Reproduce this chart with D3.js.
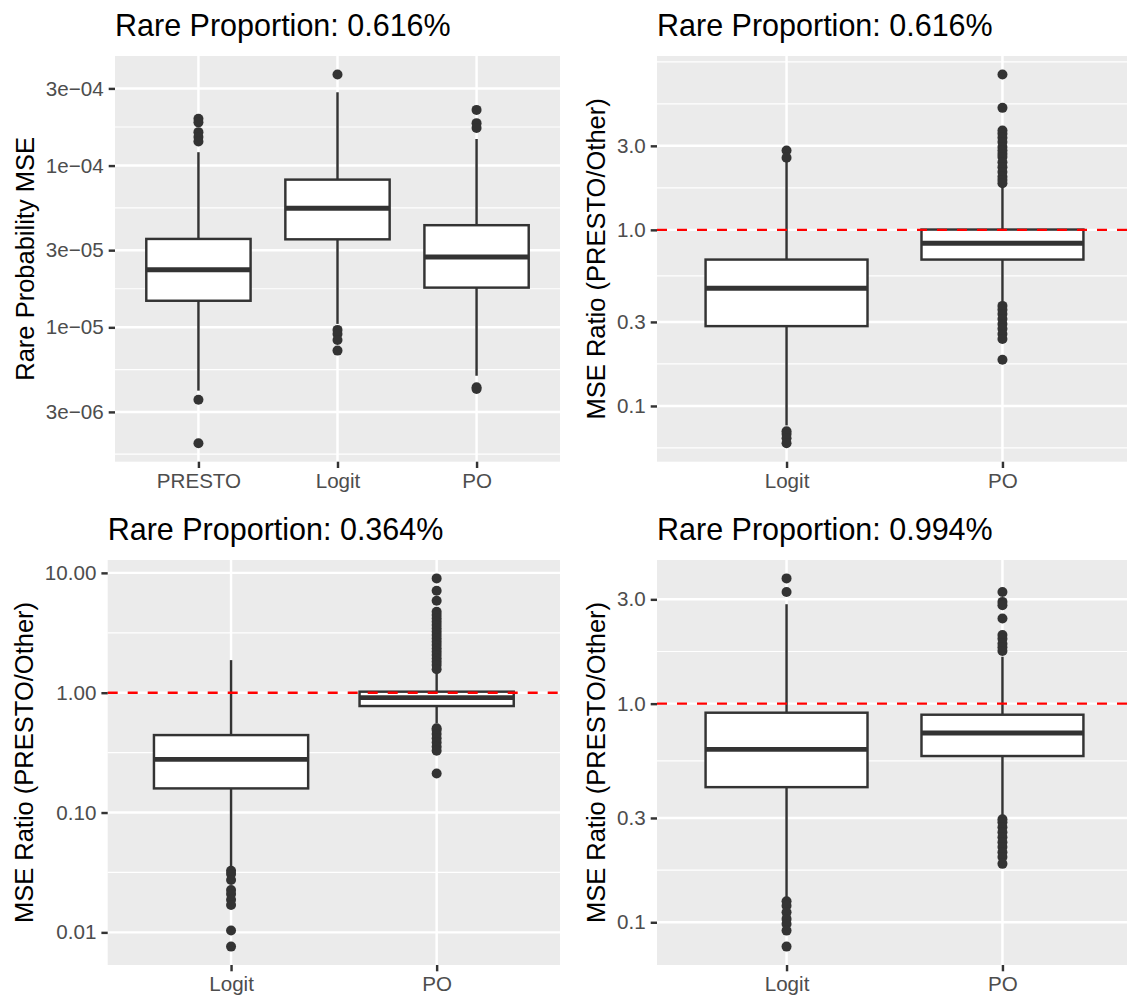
<!DOCTYPE html>
<html><head><meta charset="utf-8">
<script src="https://cdn.jsdelivr.net/npm/d3@7"></script>
<style>body{margin:0;background:#fff}</style>
</head><body><svg id="c" width="1127" height="1004"></svg>
<script>
// ---------- DATA ----------
// Panel 1 (top-left): Rare Probability MSE
const p1Title = "Rare Proportion: 0.616%";
const p1YTitle = "Rare Probability MSE";
const p1Cats = ["PRESTO", "Logit", "PO"];
const p1Q1 = [1.46e-5, 3.50e-5, 1.76e-5];
const p1Median = [2.27e-5, 5.45e-5, 2.72e-5];
const p1Q3 = [3.52e-5, 8.19e-5, 4.28e-5];
const p1Lower = [4.06e-6, 1.05e-5, 5.02e-6];
const p1Upper = [1.21e-4, 2.84e-4, 1.46e-4];
const p1Outliers = [
  [1.95e-4, 1.85e-4, 1.61e-4, 1.50e-4, 1.41e-4, 3.57e-6, 1.92e-6],
  [3.66e-4, 9.64e-6, 9.10e-6, 8.35e-6, 7.18e-6],
  [2.21e-4, 1.83e-4, 1.71e-4, 4.26e-6, 4.16e-6]
];
const p1Ticks = [3e-6, 1e-5, 3e-5, 1e-4, 3e-4];
const p1TickLabels = ["3e\u221206", "1e\u221205", "3e\u221205", "1e\u221204", "3e\u221204"];

// Panel 2 (top-right)
const p2Title = "Rare Proportion: 0.616%";
const p2YTitle = "MSE Ratio (PRESTO/Other)";
const p2Cats = ["Logit", "PO"];
const p2Q1 = [0.284, 0.678];
const p2Median = [0.466, 0.840];
const p2Q3 = [0.678, 1.004];
const p2Lower = [0.0775, 0.39];
const p2Upper = [2.45, 1.76];
const p2Outliers = [
  [2.82, 2.57, 0.0718, 0.0693, 0.0655, 0.0614],
  [7.63, 4.93, 3.67, 3.51, 3.33, 3.15, 2.95, 2.82, 2.70, 2.59, 2.42, 2.27, 2.13, 2.0, 1.92, 1.84,
   0.370, 0.352, 0.333, 0.312, 0.292, 0.274, 0.256, 0.240, 0.183]
];
const p2Ticks = [0.1, 0.3, 1, 3];
const p2TickLabels = ["0.1", "0.3", "1.0", "3.0"];

// Panel 3 (bottom-left)
const p3Title = "Rare Proportion: 0.364%";
const p3YTitle = "MSE Ratio (PRESTO/Other)";
const p3Cats = ["Logit", "PO"];
const p3Q1 = [0.159, 0.774];
const p3Median = [0.278, 0.909];
const p3Q3 = [0.443, 1.02];
const p3Lower = [0.0345, 0.555];
const p3Upper = [1.87, 1.45];
const p3Outliers = [
  [0.0326, 0.0307, 0.0274, 0.0226, 0.0209, 0.0187, 0.0169, 0.01035, 0.00761],
  [8.99, 7.09, 5.85, 4.74, 4.44, 4.17, 3.91, 3.67, 3.44, 3.23, 3.03, 2.84, 2.66, 2.50, 2.34, 2.20,
   2.06, 1.93, 1.81, 1.70, 1.57, 0.505, 0.488, 0.452, 0.416, 0.385, 0.354, 0.328, 0.212]
];
const p3Ticks = [0.01, 0.1, 1, 10];
const p3TickLabels = ["0.01", "0.10", "1.00", "10.00"];

// Panel 4 (bottom-right)
const p4Title = "Rare Proportion: 0.994%";
const p4YTitle = "MSE Ratio (PRESTO/Other)";
const p4Cats = ["Logit", "PO"];
const p4Q1 = [0.415, 0.576];
const p4Median = [0.618, 0.734];
const p4Q3 = [0.909, 0.890];
const p4Lower = [0.130, 0.305];
const p4Upper = [2.85, 1.64];
const p4Outliers = [
  [3.74, 3.24, 0.1248, 0.119, 0.111, 0.1036, 0.0983, 0.0916, 0.0774],
  [3.24, 2.92, 2.82, 2.45, 2.06, 1.98, 1.88, 1.81, 1.74,
   0.296, 0.287, 0.272, 0.258, 0.245, 0.232, 0.221, 0.209, 0.199, 0.185]
];
const p4Ticks = [0.1, 0.3, 1, 3];
const p4TickLabels = ["0.1", "0.3", "1.0", "3.0"];

const refLine = 1;

// ---------- DRAWING ----------
const FONT = "'Liberation Sans', Arial, Helvetica, sans-serif";
const svg = d3.select("#c");
svg.append("rect").attr("width", 1127).attr("height", 1004).attr("fill", "#fff");

const LW = 2.45, TICK = 6.3, PAD = 5;
const DARK = "#333333";

function minorBreaks(majorLog, lim) {
  const b = majorLog.slice().sort((a, c) => a - c);
  const bd = b[1] - b[0];
  if (lim[0] < b[0]) b.unshift(b[0] - bd);
  if (lim[1] > b[b.length - 1]) b.push(b[b.length - 1] + bd);
  const out = [];
  for (let i = 0; i < b.length - 1; i++) out.push((b[i] + b[i + 1]) / 2);
  out.push(b[b.length - 1]);
  return out.filter(v => v >= lim[0] && v <= lim[1]);
}

function drawPanel(c) {
  const g = svg.append("g");
  const all = [].concat(c.lo, c.hi, ...c.out).map(Math.log10);
  const mn = d3.min(all), mx = d3.max(all), pad = (mx - mn) * 0.05;
  const lim = [mn - pad, mx + pad];
  const y = d3.scaleLog().domain([10 ** lim[0], 10 ** lim[1]]).range([c.bottom, c.top]);
  const x = d3.scalePoint().domain(c.cats).range([c.left, c.right]).padding(0.6);
  const bw = x.step() * 0.75;

  g.append("rect").attr("x", c.left).attr("y", c.top)
    .attr("width", c.right - c.left).attr("height", c.bottom - c.top).attr("fill", "#EBEBEB");
  const minors = minorBreaks(c.ticks.map(Math.log10), lim);
  g.selectAll(".mn").data(minors).enter().append("line")
    .attr("x1", c.left).attr("x2", c.right)
    .attr("y1", d => y(10 ** d)).attr("y2", d => y(10 ** d))
    .attr("stroke", "#fff").attr("stroke-width", 1.2);
  g.selectAll(".mj").data(c.ticks).enter().append("line")
    .attr("x1", c.left).attr("x2", c.right)
    .attr("y1", d => y(d)).attr("y2", d => y(d))
    .attr("stroke", "#fff").attr("stroke-width", LW);
  g.selectAll(".vj").data(c.cats).enter().append("line")
    .attr("x1", d => x(d)).attr("x2", d => x(d))
    .attr("y1", c.top).attr("y2", c.bottom)
    .attr("stroke", "#fff").attr("stroke-width", LW);

  c.cats.forEach((cat, i) => {
    const cx = x(cat);
    g.append("line").attr("x1", cx).attr("x2", cx)
      .attr("y1", y(c.q3[i])).attr("y2", y(c.hi[i]))
      .attr("stroke", DARK).attr("stroke-width", LW);
    g.append("line").attr("x1", cx).attr("x2", cx)
      .attr("y1", y(c.q1[i])).attr("y2", y(c.lo[i]))
      .attr("stroke", DARK).attr("stroke-width", LW);
    g.append("rect").attr("x", cx - bw / 2).attr("y", y(c.q3[i]))
      .attr("width", bw).attr("height", y(c.q1[i]) - y(c.q3[i]))
      .attr("fill", "#fff").attr("stroke", DARK).attr("stroke-width", LW);
    g.append("line").attr("x1", cx - bw / 2).attr("x2", cx + bw / 2)
      .attr("y1", y(c.med[i])).attr("y2", y(c.med[i]))
      .attr("stroke", DARK).attr("stroke-width", LW * 2);
    g.selectAll(null).data(c.out[i]).enter().append("circle")
      .attr("cx", cx).attr("cy", d => y(d)).attr("r", 5).attr("fill", DARK);
  });

  if (c.ref) {
    g.append("line").attr("x1", c.left).attr("x2", c.right)
      .attr("y1", y(refLine)).attr("y2", y(refLine))
      .attr("stroke", "red").attr("stroke-width", LW).attr("stroke-dasharray", "10,10");
  }

  const ya = g.append("g").attr("transform", `translate(${c.left},0)`)
    .call(d3.axisLeft(y).tickValues(c.ticks).tickFormat((d, i) => c.tickLabels[i])
      .tickSize(TICK).tickPadding(PAD));
  const xa = g.append("g").attr("transform", `translate(0,${c.bottom})`)
    .call(d3.axisBottom(x).tickSize(TICK).tickPadding(PAD));
  [ya, xa].forEach(a => {
    a.select(".domain").remove();
    a.selectAll(".tick line").attr("stroke", DARK).attr("stroke-width", LW);
    a.selectAll("text").attr("fill", "#4D4D4D").attr("font-size", 20.6).attr("font-family", FONT);
  });
  xa.selectAll("text").attr("dy", "0.72em");

  g.append("text").attr("x", c.left).attr("y", c.top - 20.3)
    .attr("font-family", FONT).attr("font-size", 30.5).attr("fill", "#000").text(c.title);

  const bb = ya.node().getBBox();
  const bx = c.left + bb.x - 11.7;
  const cy = (c.top + c.bottom) / 2;
  g.append("text").attr("transform", `translate(${bx},${cy}) rotate(-90)`)
    .attr("text-anchor", "middle").attr("font-family", FONT).attr("font-size", 25.5)
    .attr("fill", "#000").text(c.ytitle);
}

drawPanel({title: p1Title, ytitle: p1YTitle, cats: p1Cats, q1: p1Q1, med: p1Median, q3: p1Q3,
  lo: p1Lower, hi: p1Upper, out: p1Outliers, ticks: p1Ticks, tickLabels: p1TickLabels, ref: false,
  left: 115, right: 560, top: 56, bottom: 461.7});
drawPanel({title: p2Title, ytitle: p2YTitle, cats: p2Cats, q1: p2Q1, med: p2Median, q3: p2Q3,
  lo: p2Lower, hi: p2Upper, out: p2Outliers, ticks: p2Ticks, tickLabels: p2TickLabels, ref: true,
  left: 657, right: 1132, top: 56, bottom: 461.7});
drawPanel({title: p3Title, ytitle: p3YTitle, cats: p3Cats, q1: p3Q1, med: p3Median, q3: p3Q3,
  lo: p3Lower, hi: p3Upper, out: p3Outliers, ticks: p3Ticks, tickLabels: p3TickLabels, ref: true,
  left: 107.7, right: 560, top: 560, bottom: 965});
drawPanel({title: p4Title, ytitle: p4YTitle, cats: p4Cats, q1: p4Q1, med: p4Median, q3: p4Q3,
  lo: p4Lower, hi: p4Upper, out: p4Outliers, ticks: p4Ticks, tickLabels: p4TickLabels, ref: true,
  left: 657, right: 1132, top: 560, bottom: 965});
</script></body></html>
